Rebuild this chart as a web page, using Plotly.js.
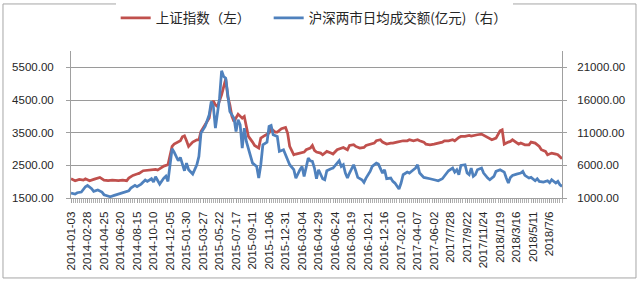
<!DOCTYPE html>
<html><head><meta charset="utf-8">
<script src="https://cdn.plot.ly/plotly-3.0.1.min.js"></script>
<style>html,body{margin:0;padding:0;background:#fff}#chart{width:640px;height:283px}</style>
</head><body><div id="chart"></div>
<script>
// Week labels (one label every 8 weekly points)
const weekLabels = ['2014-01-03','2014-02-28','2014-04-25','2014-06-20','2014-08-15','2014-10-10','2014-12-05',
  '2015-01-30','2015-03-27','2015-05-22','2015-07-17','2015-09-11','2015-11-06','2015-12-31',
  '2016-03-04','2016-04-29','2016-06-24','2016-08-19','2016-10-21','2016-12-16',
  '2017-02-10','2017-04-07','2017-06-02','2017/7/28','2017/9/22','2017/11/24',
  '2018/1/19','2018/3/16','2018/5/11','2018/7/6'];
const labelStep = 8;
const lastWeek = 238;

// 上证指数 (left axis): week number and value
const shWeek = [0,2,4,6,7,9,11,14,16,18,20,23,25,27,28,30,32,33,35,37,39,41,42,44,45,47,48,49,50,53,54,55,56,57,59,61,62,63,65,67,68,69,70,71,73,74,75,76,77,78,79,81,83,84,85,86,88,89,91,92,94,96,97,99,100,102,104,105,106,108,109,111,113,114,116,117,118,119,121,122,124,126,127,129,130,132,134,135,137,138,140,142,143,145,147,148,150,151,153,155,156,158,159,161,163,164,166,168,169,171,172,174,176,177,178,180,181,183,185,186,188,189,191,193,194,196,197,199,201,202,204,206,207,208,209,210,212,213,214,216,217,218,220,222,223,225,227,228,230,231,233,235,236,238];
const shIndex = [2090,2029,2070,2049,2090,2029,2070,2131,2049,2029,2049,2029,2049,2029,2111,2192,2233,2253,2335,2355,2355,2376,2355,2437,2477,2518,2824,3079,3150,3252,3375,3405,3252,3079,3211,3283,3283,3538,3741,3945,4353,4475,4353,4302,4659,4914,5148,4608,4353,3996,3843,4068,3945,3996,3640,3385,3211,3109,3028,3334,3415,3487,3619,3517,3517,3619,3660,3487,3079,2824,2845,2875,2906,2977,3028,3109,2957,2906,2875,2824,2926,2875,2845,2977,3008,3048,2977,3109,3130,3079,3028,3048,3109,3150,3181,3252,3283,3211,3150,3181,3181,3211,3232,3252,3252,3283,3252,3283,3252,3211,3150,3130,3150,3160,3181,3211,3252,3252,3283,3252,3354,3385,3385,3415,3395,3436,3436,3456,3385,3334,3283,3334,3436,3558,3589,3150,3211,3232,3283,3211,3150,3181,3130,3130,3211,3181,3079,2977,2926,2824,2875,2845,2824,2702];

// 沪深两市日均成交额 (亿元, right axis)
const volWeek = [0,2,3,5,7,8,10,11,13,15,16,18,19,21,23,24,26,28,29,31,32,34,36,37,39,40,41,43,45,46,47,48,49,50,52,53,55,56,57,59,61,62,63,65,67,68,69,70,71,72,73,74,75,76,77,79,80,81,82,83,84,85,87,88,90,91,92,93,95,96,97,98,100,101,103,104,106,108,109,111,112,113,114,115,116,117,118,119,120,122,123,124,126,127,129,130,131,132,133,134,135,136,137,138,139,141,142,143,145,146,148,149,150,151,152,153,155,156,157,159,160,161,163,164,166,167,168,169,171,172,174,176,177,178,180,181,183,185,186,187,188,189,191,192,193,194,195,196,197,199,200,202,203,205,206,208,210,211,212,213,214,216,218,219,220,222,223,225,226,227,229,231,232,233,235,236,237,238];
const volAmount = [1757,1605,1808,1910,2726,2930,2420,2012,2216,1910,1503,1299,1197,1401,1605,1707,1808,2114,2522,2930,2726,3134,3745,3541,3949,3440,4255,3134,4051,4357,3541,6600,8537,8027,6702,7212,5173,6345,5326,4663,6090,7364,10932,11951,13735,15774,15010,11697,14245,16284,20464,19598,19342,16794,14245,13226,11187,12971,12206,8638,11697,9658,7619,6345,5835,4051,6090,9148,9556,11951,12104,10677,10423,8129,8384,7619,6090,5326,4051,5326,5835,4306,5580,7109,6702,6600,5580,3949,5326,3949,3796,5173,5479,5580,6345,6702,5835,6090,4816,4051,4816,5580,6090,5173,4153,3796,3389,4051,5070,5835,6345,6192,5580,4816,5326,3949,4051,3541,3287,2369,3287,4561,4969,4816,5326,5580,6090,4816,4153,4051,3949,3796,3694,3643,3949,4306,5173,5580,4969,5326,4561,5988,6090,4816,4561,5580,4306,4561,5326,5580,4816,4051,3796,4306,5070,5326,4969,4051,3287,4153,4459,4663,4816,5070,4459,4051,4153,3643,3949,3541,3440,3643,3338,3796,3287,3541,3032,2777];

const leftTicks = [1500,2500,3500,4500,5500];
const rightTicks = [1000,6000,11000,16000,21000];

const tickFont = {family:'Liberation Sans, Arial, sans-serif', size:11.5, color:'#262626'};
const axisGrey = '#a0a0a0';

const traces = [
  {x: shWeek, y: shIndex, type:'scatter', mode:'lines', name:'上证指数（左）\u3000\u2002',
   line:{color:'#C0504D', width:2.75}, yaxis:'y'},
  {x: volWeek, y: volAmount, type:'scatter', mode:'lines', name:'沪深两市日均成交额(亿元)（右）',
   line:{color:'#4F81BD', width:2.75}, yaxis:'y2'}
];

const layout = {
  width:640, height:283,
  margin:{l:71, r:78, t:51, b:85},
  paper_bgcolor:'#fff', plot_bgcolor:'#fff',
  showlegend:true,
  legend:{orientation:'h', x:0.091, xanchor:'left', yref:'container', y:0.936, yanchor:'middle',
          font:{family:'Noto Sans CJK SC, sans-serif', size:13.5, color:'#262626'}},
  xaxis:{range:[0,lastWeek], tickmode:'array',
         tickvals: weekLabels.map((_, i) => i * labelStep), ticktext: weekLabels,
         tickangle:-90, tickfont:tickFont, ticks:'outside', ticklen:4, tickcolor:axisGrey,
         showline:true, linecolor:axisGrey, linewidth:1, showgrid:false, zeroline:false,
         ticklabelstandoff:4,
         minor:{dtick:1, tick0:0, ticks:'outside', ticklen:4, tickcolor:'#b0b0b0', showgrid:false}},
  yaxis:{range:[1500,6000], tickmode:'array', tickvals:leftTicks, tickformat:'.2f',
         tickfont:tickFont, showgrid:true, gridcolor:'#9a9a9a', gridwidth:1,
         showline:true, linecolor:axisGrey, ticks:'outside', ticklen:4, tickcolor:axisGrey,
         zeroline:false, ticklabelstandoff:10},
  yaxis2:{range:[1000,23500], overlaying:'y', side:'right', tickmode:'array', tickvals:rightTicks,
          tickformat:'.2f', tickfont:tickFont, showgrid:false, showline:true, linecolor:axisGrey,
          ticks:'outside', ticklen:4, tickcolor:axisGrey, zeroline:false, ticklabelstandoff:8},
  shapes:[{type:'rect', xref:'paper', yref:'paper', x0:-0.1385, x1:1.1507, y0:-0.544, y1:1.32,
           line:{color:'#a6a6a6', width:1}, layer:'below'}]
};

Plotly.newPlot('chart', traces, layout, {staticPlot:true, displayModeBar:false});
</script>
</body></html>
